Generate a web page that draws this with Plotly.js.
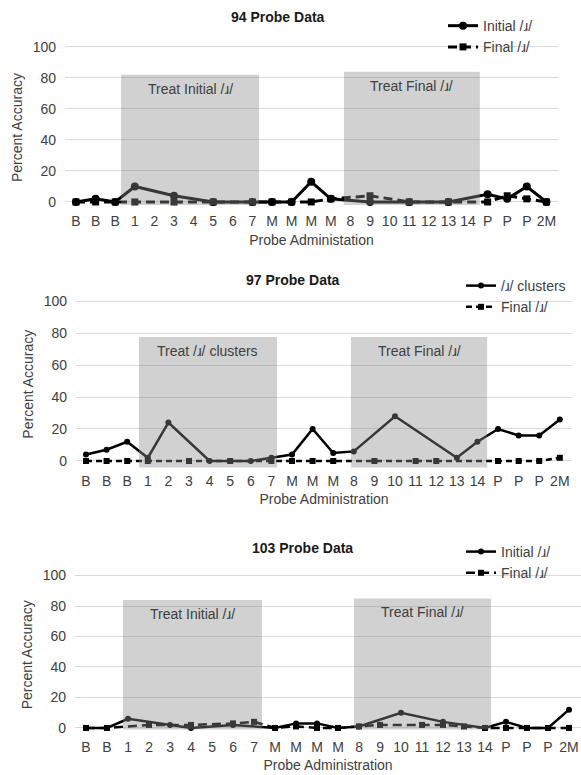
<!DOCTYPE html>
<html>
<head>
<meta charset="utf-8">
<script src="https://cdn.plot.ly/plotly-3.0.1.min.js"></script>
<style>html,body{margin:0;padding:0;background:#fff;}#chart{width:581px;height:775px;}</style>
</head>
<body>
<div id="chart"></div>
<script>
// ---- Panel 1: 94 Probe Data ----
const labels1 = ['B','B','B','1','2','3','4','5','6','7','M','M','M','M','8','9','10','11','12','13','14','P','P','P','2M'];
const initial1 = [0,2,0,10,null,4,null,0,null,0,0,0,13,2,null,0,null,0,null,0,null,5,2,10,0];
const final1   = [0,0,0,0,null,0,null,0,null,0,0,0,0,2,null,4,null,0,null,0,null,0,4,2,0];

// ---- Panel 2: 97 Probe Data ----
const labels2 = ['B','B','B','1','2','3','4','5','6','7','M','M','M','8','9','10','11','12','13','14','P','P','P','2M'];
const clusters2 = [4,7,12,2,24,null,0,null,0,2,4,20,5,6,null,28,null,null,2,12,20,16,16,26];
const final2    = [0,0,0,0,null,0,null,0,null,0,0,0,0,null,0,null,0,0,null,null,0,0,0,2];

// ---- Panel 3: 103 Probe Data ----
const labels3 = ['B','B','1','2','3','4','5','6','7','M','M','M','M','8','9','10','11','12','13','14','P','P','P','2M'];
const initial3 = [0,0,6,null,2,0,null,2,null,0,3,3,0,1,null,10,null,4,null,0,4,0,0,12];
const final3   = [0,0,null,2,null,2,null,3,4,0,1,0,0,1,2,null,2,2,1,0,0,0,0,0];

const titles = ['94 Probe Data','97 Probe Data','103 Probe Data'];
const xTitles = ['Probe Administation','Probe Administration','Probe Administration'];
const yTitle = 'Percent Accuracy';
const yTicks = [0,20,40,60,80,100];
const phaseText = [['Treat Initial /ɹ/','Treat Final /ɹ/'],['Treat /ɹ/ clusters','Treat Final /ɹ/'],['Treat Initial /ɹ/','Treat Final /ɹ/']];
const seriesNames = [['Initial /ɹ/','Final /ɹ/'],['/ɹ/ clusters','Final /ɹ/'],['Initial /ɹ/','Final /ɹ/']];

const FONT = 'Liberation Sans, Arial, sans-serif';
const TXT = '#404040';
const idx = a => a.map((_, i) => i);

const panels = [
  {labels: labels1, a: initial1, b: final1, dash: '9px,5px', w: 3, ms: 8, ms2: 7,
   xdom: [0.1119, 0.9604], xr: [-0.561, 24.59], ydom: [0.7274, 0.9434],
   rects: [[2.30, 9.34, -2, 82], [13.67, 20.60, -2, 84]], txtY: [73, 75]},
  {labels: labels2, a: clusters2, b: final2, dash: '6px,4px', w: 2.5, ms: 6, ms2: 6,
   xdom: [0.1308, 0.9845], xr: [-0.485, 23.59], ydom: [0.3928, 0.6157],
   rects: [[2.57, 9.27, -4, 77.5], [12.86, 19.47, -4, 77.5]], txtY: [69, 69]},
  {labels: labels3, a: initial3, b: final3, dash: '9px,5px', w: 2.5, ms: 6, ms2: 6,
   xdom: [0.1291, 1.0], xr: [-0.524, 23.57], ydom: [0.0489, 0.2613],
   rects: [[1.76, 8.38, -1, 84], [12.76, 19.29, -1, 85]], txtY: [75, 76]}
];

const legendPos = [[0.7625, 0.987], [0.7935, 0.6516], [0.7935, 0.3084]];
const titlePos = [[0.4785, 0.978], [0.5043, 0.6387], [0.5215, 0.2929]];

const data = [];
const layout = {
  width: 581, height: 775,
  margin: {l: 0, r: 0, t: 0, b: 0},
  paper_bgcolor: '#fff', plot_bgcolor: '#fff',
  font: {family: FONT, size: 14, color: TXT},
  shapes: [], annotations: [], showlegend: true
};

panels.forEach((p, k) => {
  const n = k === 0 ? '' : String(k + 1);
  const xa = 'x' + n, ya = 'y' + n;
  const lg = 'legend' + n;
  const xs = idx(p.labels);
  data.push({
    x: xs, y: p.a, type: 'scatter', mode: 'lines+markers', connectgaps: true, cliponaxis: false,
    name: seriesNames[k][0], xaxis: xa, yaxis: ya, legend: lg,
    line: {color: '#000', width: p.w},
    marker: {symbol: 'circle', size: p.ms, color: '#000'}
  });
  data.push({
    x: xs, y: p.b, type: 'scatter', mode: 'lines+markers', connectgaps: true, cliponaxis: false,
    name: seriesNames[k][1], xaxis: xa, yaxis: ya, legend: lg,
    line: {color: '#000', width: p.w, dash: p.dash},
    marker: {symbol: 'square', size: p.ms2, color: '#000'}
  });
  layout['xaxis' + n] = {
    domain: p.xdom, range: p.xr, anchor: ya,
    tickmode: 'array', tickvals: xs, ticktext: p.labels,
    showgrid: false, zeroline: false, showline: false, ticks: '',
    tickfont: {size: 14, color: TXT}, ticklabelstandoff: 0,
    title: {text: xTitles[k], font: {size: 14, color: TXT}, standoff: 6}
  };
  layout['yaxis' + n] = {
    domain: p.ydom, range: [-6, 102], anchor: xa,
    tickmode: 'array', tickvals: yTicks,
    showgrid: true, gridcolor: '#d9d9d9', gridwidth: 1, zeroline: false, showline: false, ticks: '',
    tickfont: {size: 14, color: TXT}, ticklabelstandoff: 8,
    title: {text: yTitle, font: {size: 14, color: TXT}, standoff: 6}
  };
  layout[lg] = {
    x: legendPos[k][0], y: legendPos[k][1], xanchor: 'left', yanchor: 'top',
    bgcolor: 'rgba(0,0,0,0)', font: {size: 14, color: TXT}, tracegroupgap: 0
  };
  p.rects.forEach((r, j) => {
    layout.shapes.push({
      type: 'rect', xref: xa, yref: ya, x0: r[0], x1: r[1], y0: r[2], y1: r[3],
      fillcolor: 'rgb(140,140,140)', opacity: 0.4, line: {width: 0}, layer: 'above'
    });
    layout.annotations.push({
      xref: xa, yref: ya, x: (r[0] + r[1]) / 2, y: p.txtY[j], text: phaseText[k][j],
      showarrow: false, font: {size: 14, color: TXT}, xanchor: 'center', yanchor: 'middle'
    });
  });
  layout.annotations.push({
    xref: 'paper', yref: 'paper', x: titlePos[k][0], y: titlePos[k][1],
    text: '<b>' + titles[k] + '</b>', showarrow: false,
    font: {size: 14, color: '#1a1a1a'}, xanchor: 'center', yanchor: 'middle'
  });
});

Plotly.newPlot('chart', data, layout, {displayModeBar: false, staticPlot: true});
</script>
</body>
</html>
